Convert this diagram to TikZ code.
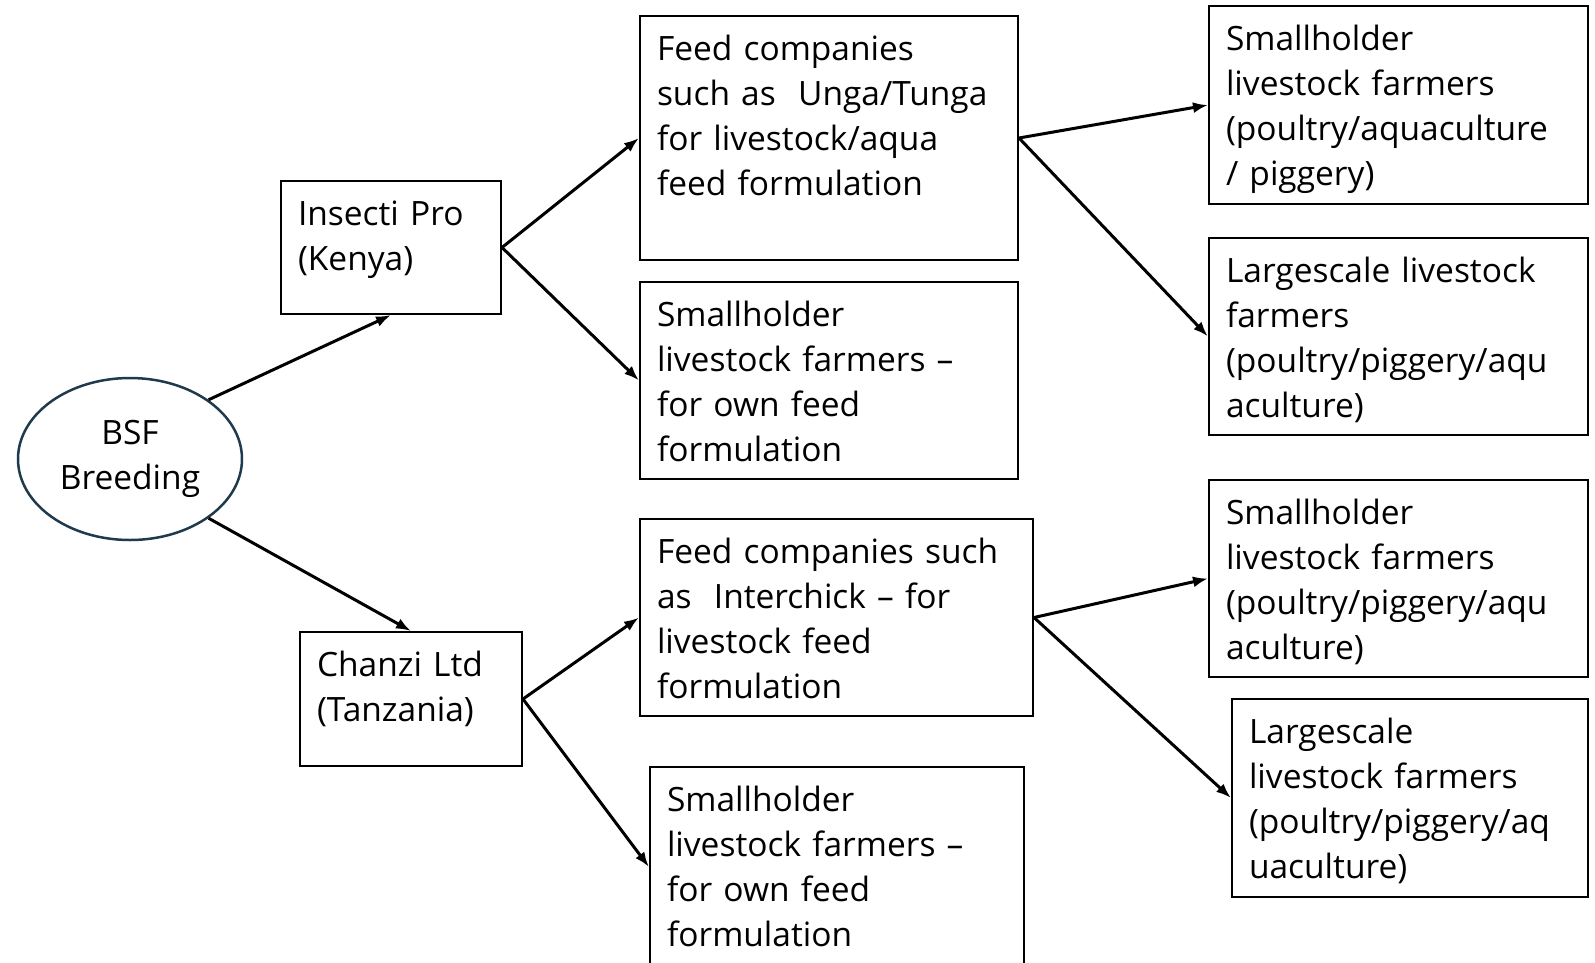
\documentclass[tikz,border=0pt]{standalone}
\usepackage{fontspec}
\setmainfont{Open Sans}
\usetikzlibrary{shapes.geometric,arrows.meta}
\definecolor{EllipseBlue}{HTML}{1f3a4d}

\tikzset{
  cell/.style={draw, line width=2pt, anchor=north west, align=left,
    inner xsep=17pt, inner ysep=13pt, text height=31pt,
    font=\fontsize{33.5}{45}\selectfont},
  flow/.style={line width=3pt, -{Latex[length=15pt,width=11pt]}}
}

\begin{document}
\begin{tikzpicture}[x=1pt,y=-1pt]
    \useasboundingbox (0,0) rectangle (1595,962);
    \node[ellipse, draw=EllipseBlue, line width=2.5pt, minimum width=224pt,
      minimum height=162pt, align=center, font=\fontsize{33.5}{45}\selectfont]
      (bsf) at (130,459) {BSF\\Breeding};
    % distributors
    \node[cell, text width=186pt, text depth=76pt] (insecti) at (280,180) {Insecti Pro\\(Kenya)};
    \node[cell, text width=188pt, text depth=77pt] (chanzi) at (299,631) {Chanzi Ltd\\(Tanzania)};
    % middle column
    \node[cell, text width=344pt, text depth=187pt] (feedA) at (639,15)
      {Feed companies\\such as \ Unga/Tunga\\for livestock/aqua\\feed formulation};
    \node[cell, text width=344pt, text depth=140pt] (ownA) at (639,281)
      {Smallholder\\livestock farmers --\\for own feed\\formulation};
    \node[cell, text width=359pt, text depth=140pt] (feedB) at (639,518)
      {Feed companies such\\as \ Interchick -- for\\livestock feed\\formulation};
    \node[cell, text width=340pt, text depth=143pt] (ownB) at (649,766)
      {Smallholder\\livestock farmers --\\for own feed\\formulation};
    % farmers
    \node[cell, text width=345pt, text depth=141pt] (smallA) at (1208,5)
      {Smallholder\\livestock farmers\\(poultry/aquaculture\\/ piggery)};
    \node[cell, text width=345pt, text depth=140pt] (largeA) at (1208,237)
      {Largescale livestock\\farmers\\(poultry/piggery/aqu\\aculture)};
    \node[cell, text width=345pt, text depth=140pt] (smallB) at (1208,479)
      {Smallholder\\livestock farmers\\(poultry/piggery/aqu\\aculture)};
    \node[cell, text width=322pt, text depth=141pt] (largeB) at (1231,698)
      {Largescale\\livestock farmers\\(poultry/piggery/aq\\uaculture)};
    % arrows
    \foreach \from/\to in {bsf.37/insecti.south, bsf.-37/chanzi.north,
      insecti.east/feedA.west, insecti.east/ownA.west,
      chanzi.east/feedB.west, chanzi.east/ownB.west,
      feedA.east/smallA.west, feedA.east/largeA.west,
      feedB.east/smallB.west, feedB.east/largeB.west} {
      \draw[flow] (\from) -- (\to);
    }
\end{tikzpicture}
\end{document}
